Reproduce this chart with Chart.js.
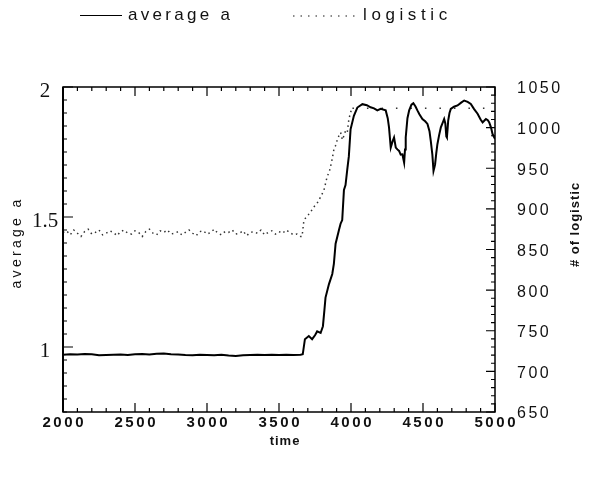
<!DOCTYPE html>
<html>
<head>
<meta charset="utf-8">
<script src="https://cdn.jsdelivr.net/npm/chart.js@4.4.0/dist/chart.umd.min.js"></script>
<style>
  body { margin: 0; background: #fff; }
  #wrap { position: relative; width: 590px; height: 478px; }
  .leg { position: absolute; font-family: 'Liberation Sans', Arial, sans-serif; font-size: 17px; line-height: 20px; color: #111; }
</style>
</head>
<body>
<div id="wrap">
  <canvas id="chart" width="590" height="478"></canvas>
  <div style="position:absolute;left:80px;top:15px;width:42px;border-top:1.5px solid #000;"></div>
  <div class="leg" style="left:128px;top:5px;letter-spacing:3.3px;">average a</div>
  <svg style="position:absolute;left:293px;top:14px;" width="64" height="4">
    <line x1="0" y1="2" x2="64" y2="2" stroke="#666" stroke-width="1.5" stroke-dasharray="1.5 6"></line>
  </svg>
  <div class="leg" style="left:363px;top:5px;letter-spacing:4.6px;">logistic</div>
</div>
<script>
// average a (left axis) vs time
const timeA = [
  2000, 2050, 2100, 2150, 2200, 2250, 2300, 2350, 2400, 2450,
  2500, 2550, 2600, 2650, 2700, 2750, 2800, 2850, 2900, 2950,
  3000, 3050, 3100, 3150, 3200, 3250, 3300, 3350, 3400, 3450,
  3500, 3550, 3600, 3650, 3665, 3680, 3707, 3730, 3750, 3765,
  3789, 3805, 3815, 3823, 3847, 3870, 3881, 3893, 3916, 3928,
  3939, 3951, 3962, 3974, 3985, 3997, 4020, 4044, 4079, 4110,
  4136, 4160, 4183, 4206, 4241, 4255, 4264, 4276, 4288, 4299,
  4311, 4322, 4334, 4345, 4357, 4363, 4369, 4375, 4380, 4392,
  4404, 4420, 4433, 4448, 4461, 4475, 4496, 4515, 4531, 4545,
  4554, 4565, 4573, 4579, 4584, 4592, 4600, 4612, 4624, 4635,
  4647, 4655, 4662, 4666, 4671, 4675, 4684, 4693, 4715, 4740,
  4765, 4786, 4810, 4832, 4855, 4879, 4900, 4914, 4925, 4937,
  4950, 4960, 4972, 4983, 4995, 5000
];
const avgA = [
  0.970, 0.972, 0.971, 0.973, 0.972, 0.968, 0.969, 0.970, 0.971, 0.969,
  0.972, 0.973, 0.971, 0.974, 0.975, 0.972, 0.971, 0.969, 0.968, 0.970,
  0.969, 0.968, 0.970, 0.967, 0.965, 0.968, 0.969, 0.970, 0.969, 0.970,
  0.969, 0.970, 0.969, 0.970, 0.972, 1.030, 1.042, 1.030, 1.045, 1.060,
  1.054, 1.080, 1.140, 1.190, 1.242, 1.281, 1.320, 1.397, 1.449, 1.475,
  1.488, 1.604, 1.623, 1.682, 1.733, 1.837, 1.889, 1.921, 1.934, 1.930,
  1.922, 1.918, 1.910, 1.916, 1.910, 1.880, 1.845, 1.767, 1.790, 1.806,
  1.767, 1.760, 1.754, 1.740, 1.741, 1.725, 1.709, 1.760, 1.806, 1.880,
  1.910, 1.932, 1.938, 1.925, 1.910, 1.895, 1.877, 1.868, 1.858, 1.830,
  1.793, 1.740, 1.677, 1.690, 1.703, 1.745, 1.780, 1.815, 1.845, 1.860,
  1.877, 1.860, 1.810, 1.806, 1.840, 1.871, 1.900, 1.916, 1.924, 1.929,
  1.940, 1.948, 1.943, 1.935, 1.915, 1.897, 1.875, 1.864, 1.870, 1.877,
  1.872, 1.864, 1.845, 1.819, 1.806, 1.800
];

// # of logistic (right axis) vs time
const timeL = [
  2000, 2025, 2050, 2075, 2100, 2125, 2150, 2175, 2200, 2225,
  2250, 2275, 2300, 2325, 2350, 2375, 2400, 2425, 2450, 2475,
  2500, 2525, 2550, 2575, 2600, 2625, 2650, 2675, 2700, 2725,
  2750, 2775, 2800, 2825, 2850, 2875, 2900, 2925, 2950, 2975,
  3000, 3025, 3050, 3075, 3100, 3125, 3150, 3175, 3200, 3225,
  3250, 3275, 3300, 3325, 3350, 3375, 3400, 3425, 3450, 3475,
  3500, 3525, 3550, 3575, 3600, 3625, 3650, 3660, 3673, 3690,
  3705, 3719, 3740, 3765, 3790, 3812, 3835, 3850, 3858, 3870,
  3881, 3893, 3905, 3916, 3928, 3940, 3951, 3962, 3974, 3985,
  3997, 4010, 5000
];
const logistic = [
  871, 873, 868, 874, 870, 866, 872, 875, 869, 871,
  874, 868, 870, 873, 871, 867, 872, 874, 870, 869,
  873, 871, 866, 872, 875, 870, 868, 873, 871, 874,
  869, 870, 872, 868, 871, 874, 870, 867, 872, 873,
  869, 871, 875, 870, 868, 872, 871, 874, 869, 870,
  873, 867, 871, 872, 870, 874, 868, 871, 873, 869,
  872, 870, 874, 871, 868, 869, 866, 866, 886, 890,
  893, 896, 902, 907, 915, 923, 940, 946, 952, 962,
  973, 978, 985, 990, 994, 985, 990, 996, 994, 1010,
  1019, 1024, 1024
];

// tick labels
const xTicks = [2000, 2500, 3000, 3500, 4000, 4500, 5000];
const leftTicks = [1, 1.5, 2];
const leftTickLabels = ['1', '1.5', '2'];
const rightTicks = [650, 700, 750, 800, 850, 900, 950, 1000, 1050];

const toPoints = (xs, ys) => xs.map((x, i) => ({ x: x, y: ys[i] }));

// frame, inward ticks, labels and axis titles
const framePlugin = {
  id: 'frame',
  afterDraw(chart) {
    const ctx = chart.ctx;
    const a = chart.chartArea;
    const sx = chart.scales.x, sl = chart.scales.yA, sr = chart.scales.yL;
    ctx.save();
    ctx.strokeStyle = '#000';
    ctx.lineWidth = 1.5;
    ctx.strokeRect(a.left, a.top, a.right - a.left, a.bottom - a.top);
    ctx.lineWidth = 2;
    ctx.beginPath();
    ctx.moveTo(a.left, a.top);
    ctx.lineTo(a.left, a.bottom);
    ctx.stroke();

    // minor ticks every 100 / 0.05 / 10, major every 500 / 0.5 / 50
    ctx.lineWidth = 1.2;
    ctx.beginPath();
    for (let v = 2000; v <= 5000; v += 100) {
      const p = sx.getPixelForValue(v);
      const len = v % 500 === 0 ? 9 : 4;
      ctx.moveTo(p, a.bottom); ctx.lineTo(p, a.bottom - len);
      ctx.moveTo(p, a.top); ctx.lineTo(p, a.top + len);
    }
    for (let i = 0; i <= 25; i++) {
      const p = sl.getPixelForValue(0.75 + i * 0.05);
      ctx.moveTo(a.left, p); ctx.lineTo(a.left + ((i + 5) % 10 === 0 ? 10 : 4), p);
    }
    for (let v = 650; v <= 1050; v += 10) {
      const p = sr.getPixelForValue(v);
      ctx.moveTo(a.right, p); ctx.lineTo(a.right - (v % 50 === 0 ? 9 : 4), p);
    }
    ctx.stroke();

    ctx.fillStyle = '#111';
    ctx.textBaseline = 'middle';

    // bottom labels
    ctx.font = 'bold 15px "Liberation Sans", Arial, sans-serif';
    ctx.letterSpacing = '2.6px';
    ctx.textAlign = 'center';
    xTicks.forEach(v => ctx.fillText(String(v), sx.getPixelForValue(v) + 1.3, 423));

    // left labels
    ctx.font = '21px "Liberation Serif", "Times New Roman", serif';
    ctx.letterSpacing = '0px';
    leftTicks.forEach((v, i) => ctx.fillText(leftTickLabels[i], 45, sl.getPixelForValue(v) + 4));

    // right labels
    ctx.font = '16px "Liberation Sans", Arial, sans-serif';
    ctx.letterSpacing = '2.5px';
    ctx.textAlign = 'left';
    rightTicks.forEach(v => ctx.fillText(String(v), 517, sr.getPixelForValue(v) + 2));

    // titles
    ctx.textAlign = 'center';
    ctx.font = 'bold 13px "Liberation Sans", Arial, sans-serif';
    ctx.letterSpacing = '1px';
    ctx.fillText('time', 285, 441);

    ctx.save();
    ctx.translate(17, 244);
    ctx.rotate(-Math.PI / 2);
    ctx.font = '14px "Liberation Sans", Arial, sans-serif';
    ctx.letterSpacing = '3.3px';
    ctx.fillText('average a', 1.5, 0);
    ctx.restore();

    ctx.save();
    ctx.translate(575, 225);
    ctx.rotate(-Math.PI / 2);
    ctx.font = 'bold 13px "Liberation Sans", Arial, sans-serif';
    ctx.letterSpacing = '1px';
    ctx.fillText('# of logistic', 0.5, 0);
    ctx.restore();

    ctx.restore();
  }
};

new Chart(document.getElementById('chart'), {
  type: 'scatter',
  data: {
    datasets: [
      {
        label: 'average a',
        data: toPoints(timeA, avgA),
        yAxisID: 'yA',
        showLine: true,
        borderColor: '#000',
        borderWidth: 2,
        pointRadius: 0,
        tension: 0
      },
      {
        label: 'logistic',
        data: toPoints(timeL, logistic),
        yAxisID: 'yL',
        showLine: true,
        borderColor: '#333',
        borderWidth: 1.5,
        borderDash: [1.5, 3.5],
        // the long flat run at the cap shows only sparse dots
        segment: {
          borderDash: c => (c.p0.parsed.x >= 4010 ? [1.5, 13] : undefined)
        },
        pointRadius: 0,
        tension: 0
      }
    ]
  },
  options: {
    responsive: false,
    animation: false,
    layout: { padding: { left: 63, right: 95, top: 87, bottom: 66 } },
    plugins: { legend: { display: false }, tooltip: { enabled: false } },
    scales: {
      x: { type: 'linear', display: false, min: 2000, max: 5000 },
      yA: { type: 'linear', position: 'left', display: false, min: 0.75, max: 2 },
      yL: { type: 'linear', position: 'right', display: false, min: 650, max: 1050 }
    }
  },
  plugins: [framePlugin]
});
</script>
</body>
</html>
